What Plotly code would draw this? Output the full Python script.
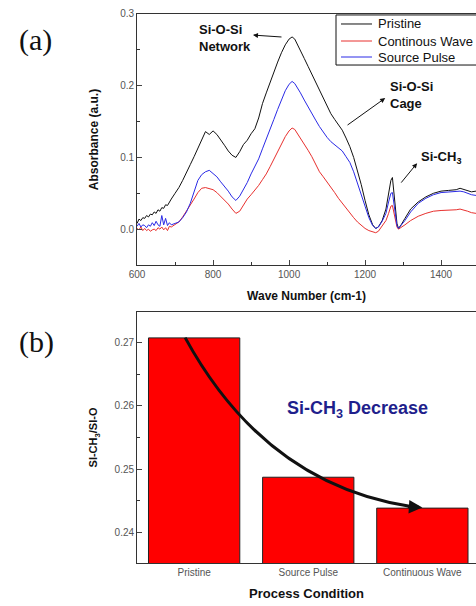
import plotly.graph_objects as go

# ---------------- FTIR spectra (panel a) ----------------
wavenumber = [600, 605, 610, 615, 620, 625, 630, 635, 640, 645, 650, 655, 660, 665, 670, 675, 680, 685, 690,
              700, 710, 720, 730, 740, 750, 760, 770, 780, 790, 800, 810, 820, 830, 840, 850, 860, 870, 880,
              890, 900, 910, 920, 930, 940, 950, 960, 970, 980, 990, 1000, 1008, 1015, 1020, 1030, 1040, 1050,
              1060, 1070, 1080, 1090, 1100, 1110, 1120, 1130, 1140, 1150, 1160, 1170, 1180, 1190, 1200, 1210,
              1220, 1228, 1235, 1245, 1255, 1262, 1268, 1272, 1278, 1284, 1288, 1295, 1305, 1320, 1340, 1360,
              1380, 1400, 1420, 1440, 1450, 1460, 1470, 1480, 1492]

abs_pristine = [0.008, 0.014, 0.012, 0.016, 0.015, 0.019, 0.017, 0.021, 0.020, 0.024, 0.022, 0.027, 0.025,
                0.030, 0.029, 0.034, 0.033, 0.038, 0.042, 0.050, 0.058, 0.068, 0.080, 0.090, 0.101, 0.113,
                0.126, 0.136, 0.132, 0.137, 0.132, 0.125, 0.117, 0.109, 0.103, 0.100, 0.108, 0.118, 0.124,
                0.133, 0.140, 0.155, 0.175, 0.190, 0.205, 0.220, 0.233, 0.246, 0.257, 0.265, 0.268, 0.265,
                0.260, 0.249, 0.238, 0.227, 0.216, 0.204, 0.193, 0.181, 0.170, 0.161, 0.153, 0.146, 0.138,
                0.127, 0.115, 0.100, 0.082, 0.062, 0.040, 0.020, 0.006, 0.001, 0.003, 0.012, 0.028, 0.050,
                0.068, 0.072, 0.040, 0.008, 0.001, 0.006, 0.015, 0.028, 0.038, 0.045, 0.050, 0.053, 0.054,
                0.055, 0.057, 0.055, 0.054, 0.052, 0.053]

abs_continuous = [0.001, -0.001, 0.003, -0.002, 0.001, -0.002, 0.000, -0.003, -0.001, 0.000, -0.002, 0.002,
                  0.000, 0.003, -0.001, 0.002, -0.002, 0.004, 0.003, 0.006, 0.010, 0.017, 0.025, 0.033, 0.042,
                  0.051, 0.057, 0.058, 0.057, 0.055, 0.051, 0.046, 0.040, 0.035, 0.028, 0.022, 0.025, 0.034,
                  0.042, 0.048, 0.054, 0.061, 0.069, 0.077, 0.087, 0.098, 0.108, 0.119, 0.129, 0.137, 0.141,
                  0.139, 0.135, 0.127, 0.118, 0.110, 0.101, 0.090, 0.080, 0.073, 0.066, 0.058, 0.051, 0.043,
                  0.036, 0.029, 0.023, 0.016, 0.010, 0.005, 0.001, -0.002, -0.004, -0.005, -0.003, 0.004,
                  0.012, 0.022, 0.032, 0.033, 0.018, 0.003, 0.000, 0.002, 0.006, 0.012, 0.018, 0.022, 0.025,
                  0.026, 0.026, 0.027, 0.028, 0.027, 0.025, 0.023, 0.022]

abs_pulse = [0.004, 0.008, 0.003, 0.006, 0.005, 0.002, 0.006, 0.004, 0.009, 0.005, 0.011, 0.006, 0.004, 0.019,
             0.006, 0.015, 0.005, 0.009, 0.006, 0.008, 0.010, 0.016, 0.024, 0.036, 0.052, 0.068, 0.076, 0.080,
             0.082, 0.078, 0.073, 0.066, 0.060, 0.053, 0.045, 0.040, 0.046, 0.055, 0.065, 0.077, 0.087, 0.098,
             0.112, 0.125, 0.139, 0.153, 0.167, 0.180, 0.193, 0.202, 0.206, 0.203, 0.199, 0.190, 0.180, 0.170,
             0.161, 0.152, 0.143, 0.135, 0.128, 0.122, 0.118, 0.114, 0.109, 0.101, 0.093, 0.080, 0.065, 0.048,
             0.032, 0.016, 0.005, 0.001, 0.003, 0.011, 0.022, 0.038, 0.050, 0.051, 0.030, 0.005, 0.001, 0.005,
             0.012, 0.024, 0.036, 0.043, 0.048, 0.051, 0.052, 0.052, 0.053, 0.052, 0.050, 0.048, 0.047]

series_names = ["Pristine", "Continous Wave", "Source Pulse"]
series_colors = ["#111111", "#e8302e", "#2a2ae6"]

# ---------------- Si-CH3 / Si-O ratio (panel b) ----------------
conditions = ["Pristine", "Source Pulse", "Continuous Wave"]
ratio = [0.2708, 0.2487, 0.2438]

AXIS_FONT = dict(family="Liberation Sans, Arial", size=10, color="#555555")
TITLE_FONT = dict(family="Liberation Sans, Arial", size=12, color="#111111")

fig = go.Figure()

for name, ys, color in zip(series_names, [abs_pristine, abs_continuous, abs_pulse], series_colors):
    fig.add_trace(go.Scatter(x=wavenumber, y=ys, name=name, mode="lines", showlegend=False,
                             line=dict(color=color, width=1), xaxis="x", yaxis="y"))

fig.add_trace(go.Bar(x=list(range(len(conditions))), y=ratio, width=0.8, showlegend=False,
                     marker=dict(color="#ff0000", line=dict(color="#222222", width=1)),
                     xaxis="x2", yaxis="y2"))

fig.update_layout(
    width=476, height=606,
    margin=dict(l=0, r=0, t=0, b=0, autoexpand=False),
    paper_bgcolor="white", plot_bgcolor="white",
    showlegend=False,
    xaxis=dict(domain=[0.288, 1.0], range=[600, 1492], anchor="y",
               tickvals=[600, 800, 1000, 1200, 1400], ticks="inside", ticklen=5,
               minor=dict(dtick=100, tick0=600, ticks="inside", ticklen=3, tickcolor="#333333"),
               showline=True, linecolor="#333333", linewidth=1, mirror=True,
               showgrid=False, zeroline=False, tickfont=AXIS_FONT,
               title=dict(text="<b>Wave Number (cm-1)</b>", font=TITLE_FONT, standoff=12)),
    yaxis=dict(domain=[0.5627, 0.9769], range=[-0.05, 0.3], anchor="x",
               tickvals=[0.0, 0.1, 0.2, 0.3], ticktext=["0.0", "0.1", "0.2", "0.3"],
               ticks="inside", ticklen=5,
               minor=dict(dtick=0.05, tick0=0, ticks="inside", ticklen=3, tickcolor="#333333"),
               showline=True, linecolor="#333333", linewidth=1,
               showgrid=False, zeroline=False, tickfont=AXIS_FONT,
               title=dict(text="<b>Absorbance (a.u.)</b>", font=TITLE_FONT, standoff=18)),
    xaxis2=dict(domain=[0.288, 1.0], range=[-0.5, 2.47], anchor="y2",
                tickvals=list(range(len(conditions))), ticktext=conditions, ticks="",
                showline=True, linecolor="#333333", linewidth=1, mirror=True,
                showgrid=False, zeroline=False,
                tickfont=dict(family="Liberation Sans, Arial", size=10, color="#555555"),
                title=dict(text="<b>Process Condition</b>",
                           font=dict(family="Liberation Sans, Arial", size=13, color="#111111"),
                           standoff=11)),
    yaxis2=dict(domain=[0.071, 0.4851], range=[0.2351, 0.2749], anchor="x2",
                tickvals=[0.24, 0.25, 0.26, 0.27], ticks="inside", ticklen=5,
                minor=dict(dtick=0.005, tick0=0.24, ticks="inside", ticklen=3, tickcolor="#333333"),
                showline=True, linecolor="#333333", linewidth=1,
                showgrid=False, zeroline=False, tickfont=AXIS_FONT,
                title=dict(text="<b>SI-CH<sub>3</sub>/SI-O</b>",
                           font=dict(family="Liberation Sans, Arial", size=11, color="#111111"),
                           standoff=14)),
)

LABEL_FONT = dict(family="Liberation Sans, Arial", size=13, color="#111111")
LEGEND_FONT = dict(family="Liberation Sans, Arial", size=13, color="#111111")

annotations = [
    # panel letters
    dict(text="(a)", x=0.036, y=0.934, xref="paper", yref="paper", showarrow=False,
         xanchor="left", yanchor="middle",
         font=dict(family="Liberation Serif, Times New Roman", size=30, color="#111111")),
    dict(text="(b)", x=0.036, y=0.436, xref="paper", yref="paper", showarrow=False,
         xanchor="left", yanchor="middle",
         font=dict(family="Liberation Serif, Times New Roman", size=30, color="#111111")),
    # band labels
    dict(text="<b>Si-O-Si<br>Network</b>", x=757, y=0.266, xref="x", yref="y", showarrow=False,
         xanchor="left", yanchor="middle", align="left", font=LABEL_FONT),
    dict(text="<b>Si-O-Si<br>Cage</b>", x=1261, y=0.187, xref="x", yref="y", showarrow=False,
         xanchor="left", yanchor="middle", align="left", font=LABEL_FONT),
    dict(text="<b>Si-CH<sub>3</sub></b>", x=1343, y=0.100, xref="x", yref="y", showarrow=False,
         xanchor="left", yanchor="middle", font=LABEL_FONT),
    # pointer arrows
    dict(text="", x=905, y=0.2706, ax=984, ay=0.2678, xref="x", yref="y", axref="x", ayref="y",
         showarrow=True, arrowhead=2, arrowsize=1, arrowwidth=1, arrowcolor="#111111"),
    dict(text="", x=1253, y=0.1827, ax=1150, ay=0.1437, xref="x", yref="y", axref="x", ayref="y",
         showarrow=True, arrowhead=2, arrowsize=1, arrowwidth=1, arrowcolor="#111111"),
    dict(text="", x=1337, y=0.092, ax=1292, ay=0.0628, xref="x", yref="y", axref="x", ayref="y",
         showarrow=True, arrowhead=2, arrowsize=1, arrowwidth=1, arrowcolor="#111111"),
    # trend label in panel b
    dict(text="<b>Si-CH<sub>3</sub> Decrease</b>", x=1.43, y=0.2594, xref="x2", yref="y2",
         showarrow=False, xanchor="center", yanchor="middle",
         font=dict(family="Liberation Sans, Arial", size=18, color="#1f1f8c")),
    # head of the trend arrow
    dict(text="", x=2.0, y=0.2439, ax=1.86, ay=0.24405, xref="x2", yref="y2", axref="x2", ayref="y2",
         showarrow=True, arrowhead=2, arrowsize=0.9, arrowwidth=3, arrowcolor="#111111"),
]

# legend box for the spectra, entries listed in trace order
legend_rows_y = [0.9604, 0.93234, 0.90594]
shapes = [dict(type="rect", xref="paper", yref="paper", x0=0.7059, x1=1.01, y0=0.8927, y1=0.9753,
               line=dict(color="#111111", width=1), fillcolor="white", layer="above")]
for name, color, ry in zip(series_names, series_colors, legend_rows_y):
    shapes.append(dict(type="line", xref="paper", yref="paper", x0=0.7164, x1=0.7815, y0=ry, y1=ry,
                       line=dict(color=color, width=1), layer="above"))
    annotations.append(dict(text=name, x=0.7899, y=ry, xref="paper", yref="paper", showarrow=False,
                            xanchor="left", yanchor="middle", font=LEGEND_FONT))

# curved trend line from the Pristine bar down to Continuous Wave
shapes.append(dict(type="path", xref="x2", yref="y2",
                   path="M -0.079,0.27084 C 0.315,0.2578 0.928,0.24673 1.90,0.24405",
                   line=dict(color="#111111", width=3)))

fig.update_layout(annotations=annotations, shapes=shapes)

fig.write_html("out.html")
